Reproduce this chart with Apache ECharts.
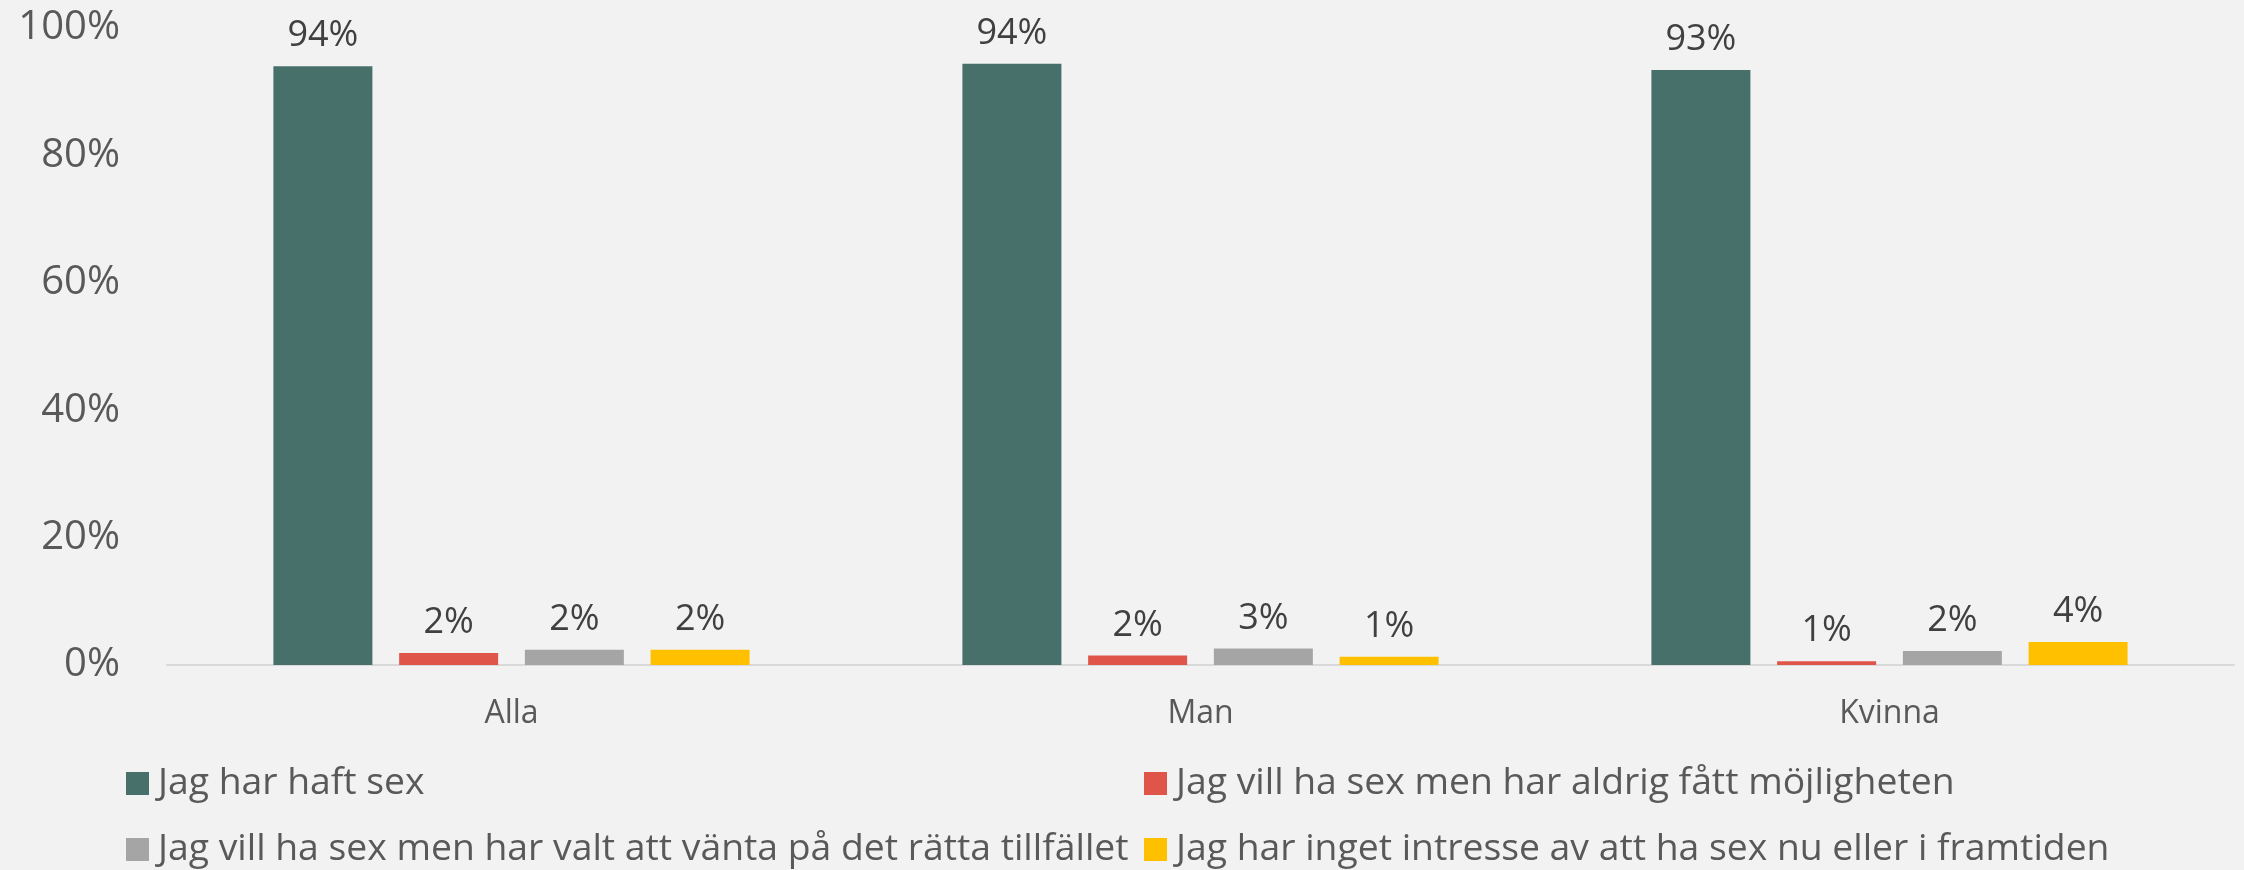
<!DOCTYPE html>
<html>
<head>
<meta charset="utf-8">
<script src="https://cdn.jsdelivr.net/npm/echarts@6/dist/echarts.min.js"></script>
<style>
  html, body { margin: 0; padding: 0; background: #f2f2f2; }
  #chart { width: 2244px; height: 870px; }
</style>
</head>
<body>
<div id="chart"></div>
<script>
// kategorier och serier (procent)
const categories = ['Alla', 'Man', 'Kvinna']
const seriesNames = [
  'Jag har haft sex',
  'Jag vill ha sex men har aldrig fått möjligheten',
  'Jag vill ha sex men har valt att vänta på det rätta tillfället',
  'Jag har inget intresse av att ha sex nu eller i framtiden',
]
const hadSex = [94.0, 94.4, 93.4]
const neverChance = [1.9, 1.5, 0.6]
const waiting = [2.4, 2.6, 2.2]
const noInterest = [2.4, 1.3, 3.6]
const colors = ['#47706a', '#e0554a', '#a5a5a5', '#ffc000']

const font = '"Open Sans", "Noto Sans", sans-serif'
const allData = [hadSex, neverChance, waiting, noInterest]

// legend i två kolumner, som i originalet
const legendPos = [
  { left: 126, top: 765 },
  { left: 1144, top: 765 },
  { left: 126, top: 831 },
  { left: 1144, top: 831 },
]

const chart = echarts.init(document.getElementById('chart'))
chart.setOption({
  backgroundColor: '#f2f2f2',
  textStyle: { fontFamily: font },
  grid: { left: 167, right: 10, top: 28, bottom: 205 },
  legend: legendPos.map((p, i) => ({
    left: p.left,
    top: p.top,
    padding: 0,
    itemWidth: 23,
    itemHeight: 23,
    icon: 'rect',
    data: [seriesNames[i]],
    textStyle: { fontSize: 37.3, color: '#595959', fontFamily: font, padding: [0, 0, 0, 4] },
  })),
  xAxis: {
    type: 'category',
    data: categories,
    axisTick: { show: false },
    axisLine: { lineStyle: { color: '#d9d9d9', width: 2 } },
    axisLabel: { fontSize: 32, color: '#595959', margin: 33, fontFamily: font },
  },
  yAxis: {
    type: 'value',
    min: 0,
    max: 100,
    interval: 20,
    splitLine: { show: false },
    axisLabel: { formatter: '{value}%', fontSize: 40, color: '#595959', margin: 47, fontFamily: font },
  },
  series: allData.map((d, i) => ({
    name: seriesNames[i],
    type: 'bar',
    data: d,
    barWidth: 99,
    barGap: '27%',
    itemStyle: { color: colors[i] },
    label: {
      show: true,
      position: 'top',
      distance: 12,
      fontSize: 36,
      color: '#404040',
      fontFamily: font,
      formatter: (p) => Math.round(p.value) + '%',
    },
  })),
})
</script>
</body>
</html>
